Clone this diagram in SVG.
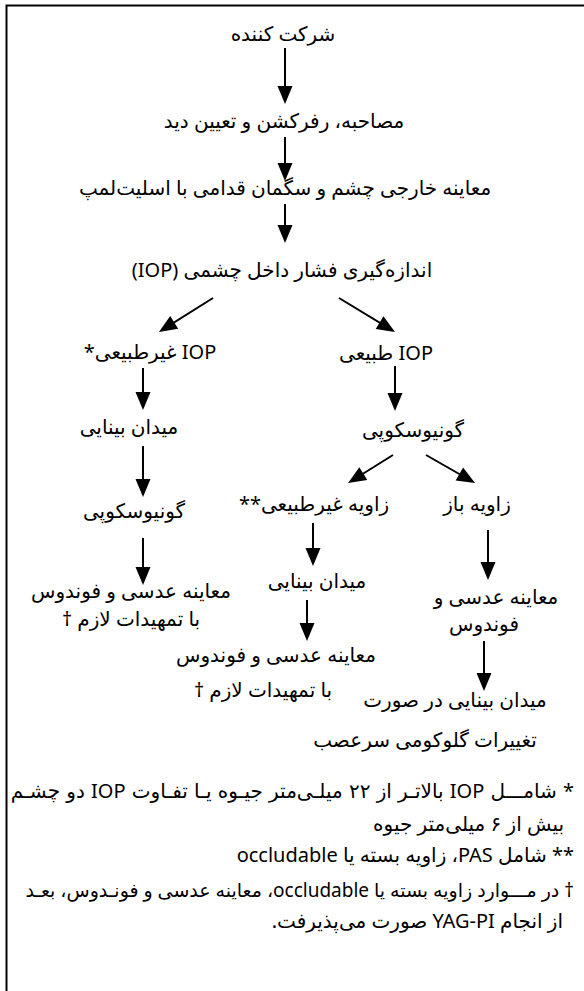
<svg xmlns="http://www.w3.org/2000/svg" width="584" height="991" viewBox="0 0 584 991">
<style>
.t{font-family:"Noto Sans","DejaVu Sans",sans-serif;font-size:20px;fill:#000;direction:rtl;text-anchor:middle}
.f{font-family:"Noto Sans","DejaVu Sans",sans-serif;font-size:20px;fill:#000;direction:rtl;text-anchor:start}
.c line{stroke:#000;stroke-width:2;marker-end:url(#ah)}
.frame{stroke:#000;stroke-width:2;fill:none}
</style>
<defs>
<marker id="ah" markerUnits="userSpaceOnUse" markerWidth="18" markerHeight="15" refX="15" refY="7.5" orient="auto" overflow="visible">
<path d="M0,0 L18,7.5 L0,15 Z" fill="#000"/>
</marker>
</defs>
<rect width="584" height="991" fill="#fff"/>
<path class="frame" d="M6.5,991 V5.5 H584"/>
<g id="n1"><text class="t" x="283" y="41">شرکت کننده</text></g>
<g id="n2"><text class="t" x="284" y="128">مصاحبه، رفرکشن و تعیین دید</text></g>
<g id="n3"><text class="t" x="285" y="195">معاینه خارجی چشم و سگمان قدامی با اسلیت‌لمپ</text></g>
<g id="n4"><text class="t" x="282" y="277">اندازه‌گیری فشار داخل چشمی (IOP)</text></g>
<g id="n5"><text class="t" x="150" y="359">IOP غیرطبیعی*</text></g>
<g id="n6"><text class="t" x="386" y="360">IOP طبیعی</text></g>
<g id="n7"><text class="t" x="129" y="434">میدان بینایی</text></g>
<g id="n8"><text class="t" x="413" y="437">گونیوسکوپی</text></g>
<g id="n9"><text class="t" x="134" y="518">گونیوسکوپی</text></g>
<g id="n10"><text class="t" x="314" y="511">زاویه غیرطبیعی**</text></g>
<g id="n11"><text class="t" x="477" y="511">زاویه باز</text></g>
<g id="n12"><text class="t" x="131" y="598">معاینه عدسی و فوندوس</text><text class="t" x="131" y="626">با تمهیدات لازم †</text></g>
<g id="n13"><text class="t" x="317" y="588">میدان بینایی</text></g>
<g id="n14"><text class="t" x="496" y="604">معاینه عدسی و</text><text class="t" x="484" y="631">فوندوس</text></g>
<g id="n15"><text class="t" x="276" y="662">معاینه عدسی و فوندوس</text><text class="t" x="263" y="697">با تمهیدات لازم †</text></g>
<g id="n16"><text class="t" x="455" y="707">میدان بینایی در صورت</text><text class="t" x="425" y="747">تغییرات گلوکومی سرعصب</text></g>
<g id="notes">
<text class="f" x="574" y="798" word-spacing="1">* شامـــل IOP بالاتـر از ۲۲ میلـی‌متر جیـوه یـا تفـاوت IOP دو چشـم</text>
<text class="f" x="564" y="831">بیش از ۶ میلی‌متر جیوه</text>
<text class="f" x="574" y="862">** شامل PAS، زاویه بسته یا occludable</text>
<text class="f" x="574" y="897" style="font-size:19px">† در مـــوارد زاویه بسته یا occludable، معاینه عدسی و فونـدوس، بعـد</text>
<text class="f" x="563" y="928">از انجام YAG-PI صورت می‌پذیرفت.</text>
</g>
<g id="connectors" class="c">
<line x1="285" y1="48" x2="285" y2="101"/>
<line x1="285" y1="137" x2="285" y2="178"/>
<line x1="285" y1="204" x2="285" y2="240"/>
<line x1="213" y1="298" x2="161.5" y2="330.4"/>
<line x1="339" y1="298" x2="392.4" y2="330.4"/>
<line x1="143" y1="368" x2="143" y2="407"/>
<line x1="395" y1="366" x2="395" y2="408"/>
<line x1="143" y1="446" x2="143" y2="494"/>
<line x1="393" y1="455" x2="350.6" y2="481.5"/>
<line x1="426" y1="455" x2="472.4" y2="481.5"/>
<line x1="143" y1="538" x2="143" y2="582"/>
<line x1="313" y1="523" x2="313" y2="563"/>
<line x1="488" y1="530" x2="488" y2="577"/>
<line x1="307" y1="600" x2="307" y2="638"/>
<line x1="484" y1="641" x2="484" y2="688"/>
</g>
</svg>
